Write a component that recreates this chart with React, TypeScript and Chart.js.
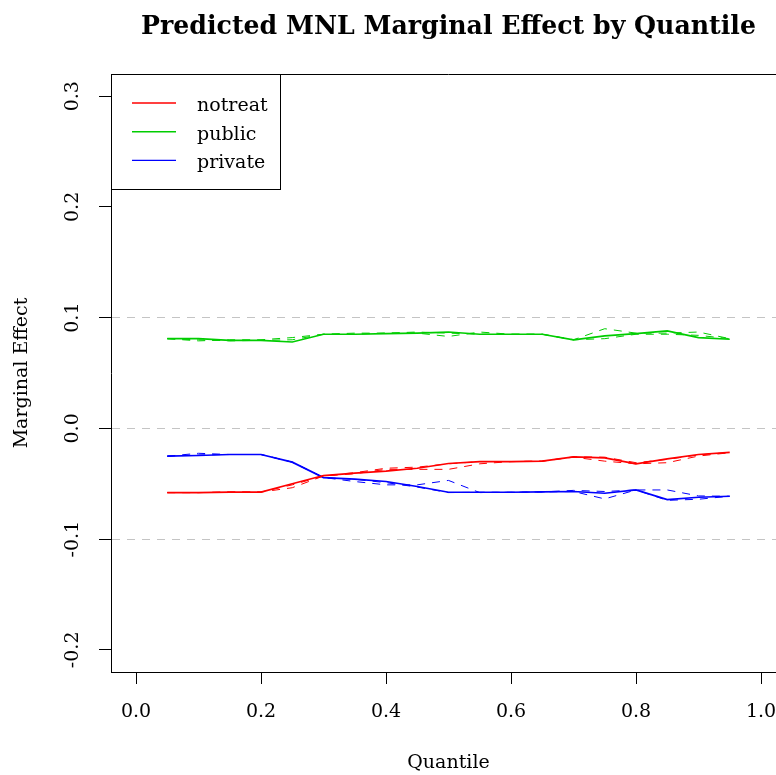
import React, { useEffect, useRef } from "react";
import { Chart, registerables } from "chart.js";

Chart.register(...registerables);

// ---- data ----
const quantiles = [0.05, 0.1, 0.15, 0.2, 0.25, 0.3, 0.35, 0.4, 0.45, 0.5, 0.55, 0.6, 0.65, 0.7, 0.75, 0.8, 0.85, 0.9, 0.95];

const notreatMain = [-0.058, -0.058, -0.0575, -0.0575, -0.05, -0.0426, -0.0405, -0.0386, -0.036, -0.0317, -0.03, -0.03, -0.0296, -0.0257, -0.0266, -0.032, -0.0275, -0.0236, -0.0217];
const notreatAltA = [-0.058, -0.058, -0.0575, -0.0575, -0.0536, -0.043, -0.041, -0.037, -0.037, -0.037, -0.032, -0.03, -0.0296, -0.026, -0.0296, -0.032, -0.031, -0.025, -0.022];
const notreatAltB = [-0.058, -0.058, -0.0575, -0.0575, -0.051, -0.043, -0.04, -0.036, -0.035, -0.032, -0.03, -0.03, -0.0296, -0.0257, -0.026, -0.031, -0.028, -0.024, -0.0217];

const publicMain = [0.081, 0.081, 0.0795, 0.0795, 0.078, 0.085, 0.085, 0.0855, 0.086, 0.087, 0.085, 0.085, 0.085, 0.08, 0.0835, 0.0855, 0.088, 0.082, 0.0805];
const publicAltA = [0.081, 0.079, 0.08, 0.08, 0.082, 0.085, 0.085, 0.086, 0.086, 0.083, 0.087, 0.085, 0.085, 0.08, 0.09, 0.086, 0.086, 0.087, 0.081];
const publicAltB = [0.081, 0.08, 0.079, 0.0795, 0.08, 0.085, 0.086, 0.086, 0.087, 0.086, 0.085, 0.085, 0.085, 0.08, 0.081, 0.085, 0.085, 0.084, 0.081];

const privateMain = [-0.0251, -0.0245, -0.0236, -0.0236, -0.0305, -0.0444, -0.0459, -0.048, -0.0525, -0.0577, -0.0577, -0.0577, -0.0574, -0.057, -0.0586, -0.0556, -0.0643, -0.0622, -0.0613];
const privateAltA = [-0.0251, -0.0225, -0.0236, -0.0236, -0.0305, -0.0444, -0.048, -0.051, -0.051, -0.047, -0.058, -0.0577, -0.0574, -0.057, -0.0637, -0.0556, -0.0556, -0.061, -0.0613];
const privateAltB = [-0.0251, -0.024, -0.0236, -0.0236, -0.0305, -0.0444, -0.046, -0.049, -0.053, -0.058, -0.0577, -0.0577, -0.0574, -0.056, -0.057, -0.0556, -0.065, -0.064, -0.0613];

const seriesLabels = ["notreat", "public", "private"];
const seriesColors = ["#FF0000", "#00CD00", "#0000FF"];
const seriesValues = [
  [notreatMain, notreatAltA, notreatAltB],
  [publicMain, publicAltA, publicAltB],
  [privateMain, privateAltA, privateAltB],
];

const xTickValues = [0, 0.2, 0.4, 0.6, 0.8, 1.0];
const yTickValues = [-0.2, -0.1, 0, 0.1, 0.2, 0.3];
const refLines = [-0.1, 0, 0.1];

const titleText = "Predicted MNL Marginal Effect by Quantile";
const xTitle = "Quantile";
const yTitle = "Marginal Effect";

const FAMILY = '"DejaVu Serif", serif';

export default function App() {
  const canvasRef = useRef<HTMLCanvasElement | null>(null);

  useEffect(() => {
    const canvas = canvasRef.current;
    if (!canvas) return;

    const datasets: any[] = [];
    seriesValues.forEach((group, si) => {
      group.forEach((vals, k) => {
        datasets.push({
          label: k === 0 ? seriesLabels[si] : seriesLabels[si] + " (alt " + k + ")",
          data: quantiles.map((q, j) => ({ x: q, y: vals[j] })),
          borderColor: seriesColors[si],
          backgroundColor: seriesColors[si],
          borderWidth: k === 0 ? 1.7 : 1,
          borderDash: k === 0 ? [] : [8, 7],
          pointRadius: 0,
          fill: false,
          tension: 0,
        });
      });
    });

    const framePlugin = {
      id: "frame",
      afterDatasetsDraw(chart: any) {
        const { ctx, chartArea } = chart;
        ctx.save();
        ctx.strokeStyle = "#000";
        ctx.lineWidth = 1;
        ctx.beginPath();
        ctx.moveTo(chartArea.left, chartArea.top + 0.5);
        ctx.lineTo(chartArea.right, chartArea.top + 0.5);
        ctx.lineTo(chartArea.right, chartArea.bottom);
        ctx.stroke();
        ctx.restore();
      },
    };

    const legendPlugin = {
      id: "rlegend",
      afterDraw(chart: any) {
        const { ctx, chartArea } = chart;
        const x0 = chartArea.left;
        const y0 = chartArea.top;
        const w = 169;
        const h = 115;
        ctx.save();
        ctx.fillStyle = "#fff";
        ctx.fillRect(x0, y0, w, h);
        ctx.strokeStyle = "#000";
        ctx.lineWidth = 1;
        ctx.strokeRect(x0 + 0.5, y0 + 0.5, w, h);
        ctx.font = `19px ${FAMILY}`;
        ctx.textBaseline = "alphabetic";
        ctx.textAlign = "left";
        seriesLabels.forEach((lab, i) => {
          const ly = y0 + 29 + i * 28.7;
          ctx.strokeStyle = seriesColors[i];
          ctx.lineWidth = 1.4;
          ctx.beginPath();
          ctx.moveTo(x0 + 21, ly);
          ctx.lineTo(x0 + 65, ly);
          ctx.stroke();
          ctx.fillStyle = "#000";
          ctx.fillText(lab, x0 + 86, ly + 8);
        });
        ctx.restore();
      },
    };

    const titlePlugin = {
      id: "rtitle",
      afterDraw(chart: any) {
        const { ctx, chartArea } = chart;
        ctx.save();
        ctx.font = `bold 24px ${FAMILY}`;
        const w = ctx.measureText(titleText).width;
        const size = (24 * 615) / w;
        ctx.font = `bold ${size}px ${FAMILY}`;
        ctx.fillStyle = "#000";
        ctx.textAlign = "center";
        ctx.textBaseline = "alphabetic";
        ctx.fillText(titleText, (chartArea.left + chartArea.right) / 2, 34);
        ctx.restore();
      },
    };

    const fmt = (v: any) => Number(v).toFixed(1);

    const chart = new Chart(canvas, {
      type: "line",
      data: { datasets },
      options: {
        responsive: false,
        animation: false,
        devicePixelRatio: 1,
        layout: { padding: { left: 0, right: 14, top: 74, bottom: 0 } },
        plugins: {
          legend: { display: false },
          tooltip: { enabled: false },
          title: { display: false },
        },
        scales: {
          x: {
            type: "linear",
            min: -0.04,
            max: 1.04,
            afterBuildTicks: (s: any) => {
              s.ticks = xTickValues.map((v) => ({ value: v }));
            },
            afterFit: (s: any) => {
              s.height = 103;
            },
            grid: {
              drawOnChartArea: false,
              drawTicks: true,
              tickLength: 12,
              tickColor: "#000",
              tickWidth: 1,
            },
            border: { display: true, color: "#000", width: 1 },
            ticks: {
              color: "#000",
              font: { family: FAMILY, size: 19 },
              padding: 17,
              minRotation: 0,
              maxRotation: 0,
              autoSkip: false,
              callback: fmt,
            },
            title: {
              display: true,
              text: xTitle,
              color: "#000",
              font: { family: FAMILY, size: 19 },
              padding: { top: 0, bottom: 1 },
            },
          },
          y: {
            type: "linear",
            min: -0.22,
            max: 0.32,
            afterBuildTicks: (s: any) => {
              s.ticks = yTickValues.map((v) => ({ value: v }));
            },
            afterFit: (s: any) => {
              s.width = 111;
            },
            grid: {
              color: (c: any) =>
                c.tick && refLines.some((r) => Math.abs(r - c.tick.value) < 1e-9) ? "#c4c4c4" : "rgba(0,0,0,0)",
              lineWidth: 1,
              drawTicks: true,
              tickLength: 12,
              tickColor: "#000",
              tickWidth: 1,
            },
            border: { display: true, color: "#000", width: 1, dash: [8, 7] },
            ticks: {
              color: "#000",
              font: { family: FAMILY, size: 19 },
              padding: 8,
              minRotation: 90,
              maxRotation: 90,
              crossAlign: "center",
              autoSkip: false,
              callback: fmt,
            },
            title: {
              display: true,
              text: yTitle,
              color: "#000",
              font: { family: FAMILY, size: 19 },
              padding: { top: 11, bottom: 0 },
            },
          },
        },
      } as any,
      plugins: [framePlugin, legendPlugin, titlePlugin],
    });

    return () => chart.destroy();
  }, []);

  return (
    <div
      style={{
        position: "fixed",
        left: 0,
        top: 0,
        width: 776,
        height: 775,
        overflow: "hidden",
        background: "#fff",
      }}
    >
      <canvas ref={canvasRef} width={800} height={775} style={{ display: "block", width: 800, height: 775 }} />
    </div>
  );
}
